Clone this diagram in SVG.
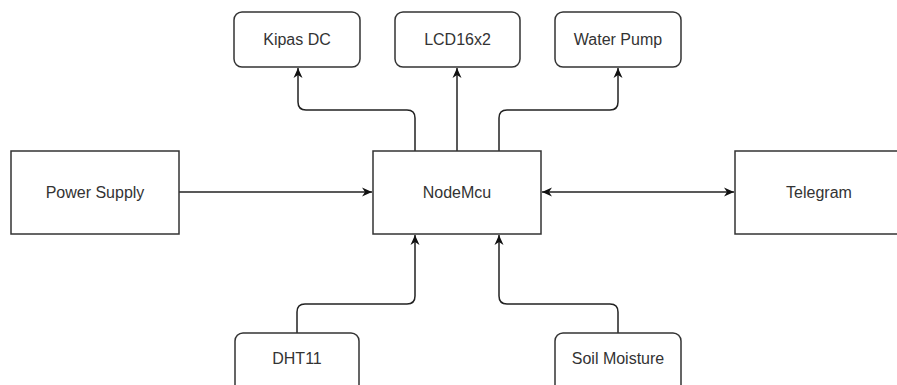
<svg xmlns="http://www.w3.org/2000/svg" width="897" height="385" viewBox="0 0 897 385">
<style>
.box{fill:#fff;stroke:#333;stroke-width:1.5}
.lbl{font-family:"Liberation Sans",Arial,sans-serif;font-size:16px;fill:#333;text-anchor:middle}
.con{fill:none;stroke:#222;stroke-width:1.5}
</style>
<defs>
<marker id="arr" markerUnits="userSpaceOnUse" markerWidth="12" markerHeight="10" refX="10" refY="5" orient="auto-start-reverse" viewBox="0 0 12 10">
<path d="M0,0.5 L10,5 L0,9.5 L3,5 Z" fill="#111"/>
</marker>
</defs>
<rect width="897" height="385" fill="#fff"/>
<g id="connectors">
<path class="con" d="M179,192 H372" marker-end="url(#arr)"/>
<path class="con" d="M542,192 H734" marker-start="url(#arr)" marker-end="url(#arr)"/>
<path class="con" d="M415,151 V118 Q415,110 407,110 H306 Q298,110 298,102 V68" marker-end="url(#arr)"/>
<path class="con" d="M457,151 V68" marker-end="url(#arr)"/>
<path class="con" d="M499,151 V118 Q499,110 507,110 H610 Q618,110 618,102 V68" marker-end="url(#arr)"/>
<path class="con" d="M297,333 V312 Q297,304 305,304 H407 Q415,304 415,296 V235" marker-end="url(#arr)"/>
<path class="con" d="M618,333 V312 Q618,304 610,304 H507 Q499,304 499,296 V235" marker-end="url(#arr)"/>
</g>
<g id="power-supply"><rect class="box" x="11" y="151" width="168" height="83"/><text class="lbl" x="95" y="198">Power Supply</text></g>
<g id="nodemcu"><rect class="box" x="373" y="151" width="168" height="83"/><text class="lbl" x="457" y="198">NodeMcu</text></g>
<g id="telegram"><rect class="box" x="735" y="151" width="168" height="83"/><text class="lbl" x="819" y="198">Telegram</text></g>
<g id="kipas-dc"><rect class="box" x="234" y="12" width="126" height="55" rx="8"/><text class="lbl" x="297" y="45">Kipas DC</text></g>
<g id="lcd16x2"><rect class="box" x="395" y="12" width="125" height="55" rx="8"/><text class="lbl" x="457.5" y="45">LCD16x2</text></g>
<g id="water-pump"><rect class="box" x="555" y="12" width="126" height="55" rx="8"/><text class="lbl" x="618" y="45">Water Pump</text></g>
<g id="dht11"><rect class="box" x="235" y="333" width="124" height="60" rx="8"/><text class="lbl" x="297" y="364">DHT11</text></g>
<g id="soil-moisture"><rect class="box" x="555" y="333" width="126" height="60" rx="8"/><text class="lbl" x="618" y="364">Soil Moisture</text></g>
</svg>
